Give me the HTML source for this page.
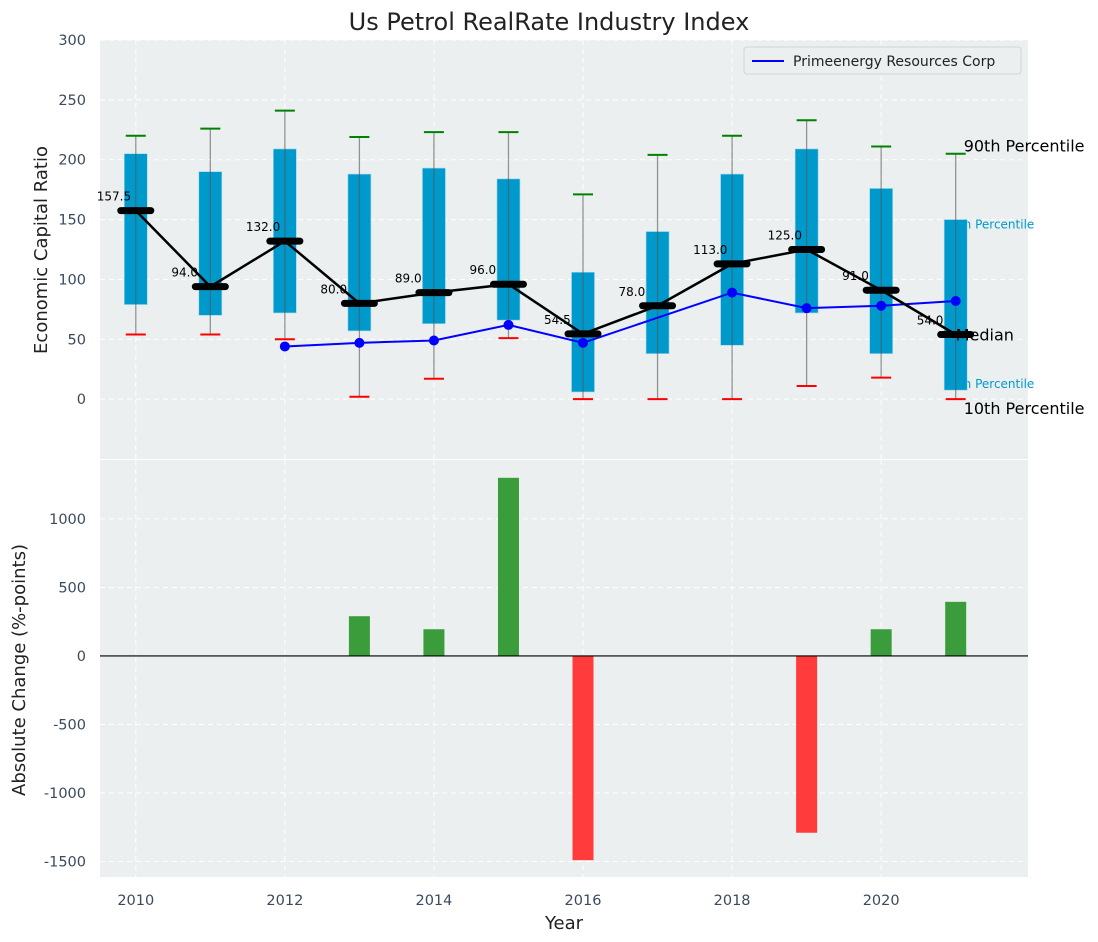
<!DOCTYPE html>
<html><head><meta charset="utf-8"><style>
body{margin:0;background:#fff;}
svg{font-family:"DejaVu Sans","Liberation Sans",sans-serif;display:block}
</style></head><body>
<svg id="c" width="1098" height="942"></svg>
<script>
const years=[2010,2011,2012,2013,2014,2015,2016,2017,2018,2019,2020,2021];
const p10=[54,54,50,2,17,51,0,0,0,11,18,0];
const p25=[79,70,72,57,63,66,6,38,45,72,38,7.5];
const med=[157.5,94,132,80,89,96,54.5,78,113,125,91,54];
const p75=[205,190,209,188,193,184,106,140,188,209,176,150];
const p90=[220,226,241,219,223,223,171,204,220,233,211,205];
const company=[null,null,44,47,49,62,47,null,89,76,78,82];
const changes=[0,0,0,290,195,1300,-1490,0,0,-1290,195,395];
const topTicks=[0,50,100,150,200,250,300];
const botTicks=[-1500,-1000,-500,0,500,1000];
const xTicks=[2010,2012,2014,2016,2018,2020];

const NS="http://www.w3.org/2000/svg";
const svg=document.getElementById('c');
function el(tag,attrs,parent,name){const e=document.createElementNS(NS,tag);for(const k in attrs)e.setAttribute(k,attrs[k]);


(parent||svg).appendChild(e);return e;}
const L=100,R=1028;
const x=v=>L+(v-2009.52)/(2021.97-2009.52)*(R-L);
const T0=40,T1=459;const yT=v=>T0+(300-v)/(300+50)*(T1-T0);
const B0=460,B1=877;const yB=v=>B0+(1430-v)/(1430+1613)*(B1-B0);

el('rect',{x:L,y:T0,width:R-L,height:T1-T0,fill:'#ebeff0'},svg,'top-plot-area');
el('rect',{x:L,y:B0,width:R-L,height:B1-B0,fill:'#ebeff0'},svg,'bottom-plot-area');
for(const t of topTicks){el('line',{x1:L,x2:R,y1:yT(t),y2:yT(t),stroke:'#fff','stroke-dasharray':'5,4','stroke-width':1},svg,'top-gridline');
 const tx=el('text',{x:L-14,y:yT(t)+5,'text-anchor':'end','font-size':14.5,fill:'#3b4a5e'},svg,'top-y-tick-label');tx.textContent=t;}
for(const t of botTicks){el('line',{x1:L,x2:R,y1:yB(t),y2:yB(t),stroke:'#fff','stroke-dasharray':'5,4','stroke-width':1},svg,'bottom-gridline');
 const tx=el('text',{x:L-14,y:yB(t)+5,'text-anchor':'end','font-size':14.5,fill:'#3b4a5e'},svg,'bottom-y-tick-label');tx.textContent=t;}
for(const t of xTicks){
 el('line',{x1:x(t),x2:x(t),y1:T0,y2:T1,stroke:'#fff','stroke-dasharray':'5,4'},svg,'top-x-gridline');
 el('line',{x1:x(t),x2:x(t),y1:B0,y2:B1,stroke:'#fff','stroke-dasharray':'5,4'},svg,'bottom-x-gridline');
 const tx=el('text',{x:x(t),y:B1+28,'text-anchor':'middle','font-size':14.5,fill:'#3b4a5e'},svg,'x-tick-label');tx.textContent=t;}
const xl=x(2021);
function txt(s,xx,yy,sz,col,name){const t=el('text',{x:xx,y:yy,'font-size':sz,fill:col},svg,name);t.textContent=s;}
txt('75th Percentile',xl-12,yT(p75[11])+9,12,'#0099cc','p75-annotation');
txt('25th Percentile',xl-12,yT(p25[11])-2,12,'#0099cc','p25-annotation');
years.forEach((yr,i)=>{const cx=x(yr);
 el('rect',{x:cx-11.5,y:yT(p75[i]),width:23,height:yT(p25[i])-yT(p75[i]),fill:'#0099cc',stroke:'#a0d8ec','stroke-width':0.6},svg,'iqr-box');
 el('line',{x1:cx,x2:cx,y1:yT(p90[i]),y2:yT(p10[i]),stroke:'#555','stroke-opacity':0.6,'stroke-width':1.3},svg,'whisker');
 el('line',{x1:cx-10,x2:cx+10,y1:yT(p90[i]),y2:yT(p90[i]),stroke:'#008000','stroke-width':2},svg,'p90-cap');
 el('line',{x1:cx-10,x2:cx+10,y1:yT(p10[i]),y2:yT(p10[i]),stroke:'#ff0000','stroke-width':2},svg,'p10-cap');
});
const cp=years.map((yr,i)=>company[i]==null?null:[x(yr),yT(company[i])]).filter(p=>p);
el('polyline',{points:cp.map(p=>p.join(',')).join(' '),fill:'none',stroke:'#0000ff','stroke-width':2},svg,'company-line');
cp.forEach(p=>el('circle',{cx:p[0],cy:p[1],r:5,fill:'#0000ff'},svg,'company-point'));
el('polyline',{points:years.map((yr,i)=>x(yr)+','+yT(med[i])).join(' '),fill:'none',stroke:'#000','stroke-width':2.5},svg,'median-line');
years.forEach((yr,i)=>{const cx=x(yr);
 el('line',{x1:cx-15,x2:cx+15,y1:yT(med[i]),y2:yT(med[i]),stroke:'#000','stroke-width':7,'stroke-linecap':'round'},svg,'median-bar');
 txt(med[i].toFixed(1),cx-39,yT(med[i])-10,12,'#000','median-value-label');
});
txt('90th Percentile',xl+8,yT(p90[11])-2,16,'#000','p90-annotation');
txt('Median',xl,yT(med[11])+6,16,'#000','median-annotation');
txt('10th Percentile',xl+8,yT(p10[11])+15,16,'#000','p10-annotation');
years.forEach((yr,i)=>{const v=changes[i];if(!v)return;const y0=yB(0),y1=yB(v);
 el('rect',{x:x(yr)-10.5,y:Math.min(y0,y1),width:21,height:Math.abs(y1-y0),fill:v>0?'#3a9c3a':'#ff3b3b'},svg,'change-bar');});
el('line',{x1:L,x2:R,y1:yB(0),y2:yB(0),stroke:'#000','stroke-width':1.2},svg,'zero-line');
const lg=el('g',{},svg,'legend');
el('rect',{x:744,y:47,width:277,height:27,fill:'#ebeff0',stroke:'#d0d4d6',rx:3},lg,'legend-box');
el('line',{x1:752,x2:784,y1:61,y2:61,stroke:'#0000ff','stroke-width':2},lg,'legend-swatch');
const lt=el('text',{x:793,y:66,'font-size':14,fill:'#222'},lg,'legend-label');lt.textContent='Primeenergy Resources Corp';
const tt=el('text',{x:549,y:30,'text-anchor':'middle','font-size':24,fill:'#222'},svg,'chart-title');tt.textContent='Us Petrol RealRate Industry Index';
const yl=el('text',{x:0,y:0,'text-anchor':'middle','font-size':18,fill:'#222',transform:'translate(47,250) rotate(-90)'},svg,'top-y-axis-title');yl.textContent='Economic Capital Ratio';
const yl2=el('text',{x:0,y:0,'text-anchor':'middle','font-size':18,fill:'#222',transform:'translate(25,670) rotate(-90)'},svg,'bottom-y-axis-title');yl2.textContent='Absolute Change (%-points)';
const xlb=el('text',{x:564,y:929,'text-anchor':'middle','font-size':18,fill:'#222'},svg,'x-axis-title');xlb.textContent='Year';
</script>
</body></html>
